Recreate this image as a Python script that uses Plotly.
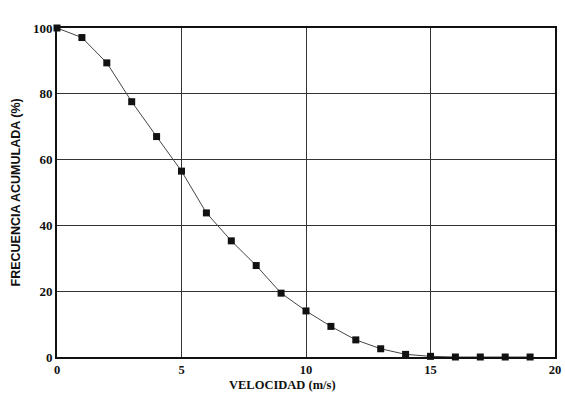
import plotly.graph_objects as go

velocidad = [0, 1, 2, 3, 4, 5, 6, 7, 8, 9, 10, 11, 12, 13, 14, 15, 16, 17, 18, 19]
frecuencia = [100, 97.1, 89.4, 77.6, 67.0, 56.5, 43.8, 35.3, 27.8, 19.4, 14.0, 9.3, 5.2, 2.5, 0.8, 0.2, 0, 0, 0, 0]
x_ticks = [0, 5, 10, 15, 20]
y_ticks = [0, 20, 40, 60, 80, 100]
x_title = "VELOCIDAD (m/s)"
y_title = "FRECUENCIA ACUMULADA (%)"

serif = "Liberation Serif, Times New Roman, serif"
sans = "Liberation Sans, Arial, sans-serif"

fig = go.Figure()
fig.add_trace(go.Scatter(
    x=velocidad, y=frecuencia, mode="lines+markers",
    line=dict(color="#444444", width=1),
    marker=dict(symbol="square", size=7, color="#111111"),
    cliponaxis=False,
))

fig.update_layout(
    width=565, height=393,
    margin=dict(l=57, r=10, t=28, b=36),
    paper_bgcolor="white", plot_bgcolor="white",
    showlegend=False,
    font=dict(family=serif, color="#111111"),
    annotations=[
        dict(text="<b>" + x_title + "</b>", xref="paper", yref="paper",
             x=(282 - 57) / 498, y=-(385 - 357) / 329, xanchor="center", yanchor="middle",
             showarrow=False, font=dict(size=12.5, family=serif, color="#111111")),
        dict(text="<b>" + y_title + "</b>", xref="paper", yref="paper",
             x=-(57 - 15) / 498, y=0.5, xanchor="center", yanchor="middle", textangle=-90,
             showarrow=False, font=dict(size=12.5, family=sans, color="#111111")),
    ],
)
fig.update_xaxes(
    range=[0, 20], tickvals=x_ticks, ticktext=[str(v) for v in x_ticks],
    showgrid=True, gridcolor="#333333", gridwidth=1,
    showline=True, linecolor="#111111", linewidth=2, mirror=True,
    zeroline=False, ticks="", automargin=False,
    tickfont=dict(size=12.5, family=serif, color="#111111", weight="bold"),
)
fig.update_yaxes(
    range=[0, 100], tickvals=y_ticks, ticktext=[str(v) for v in y_ticks],
    showgrid=True, gridcolor="#333333", gridwidth=1,
    showline=True, linecolor="#111111", linewidth=2, mirror=True,
    zeroline=False, ticks="", automargin=False,
    tickfont=dict(size=13, family=serif, color="#111111", weight="bold"),
)
fig.write_html("out.html")
